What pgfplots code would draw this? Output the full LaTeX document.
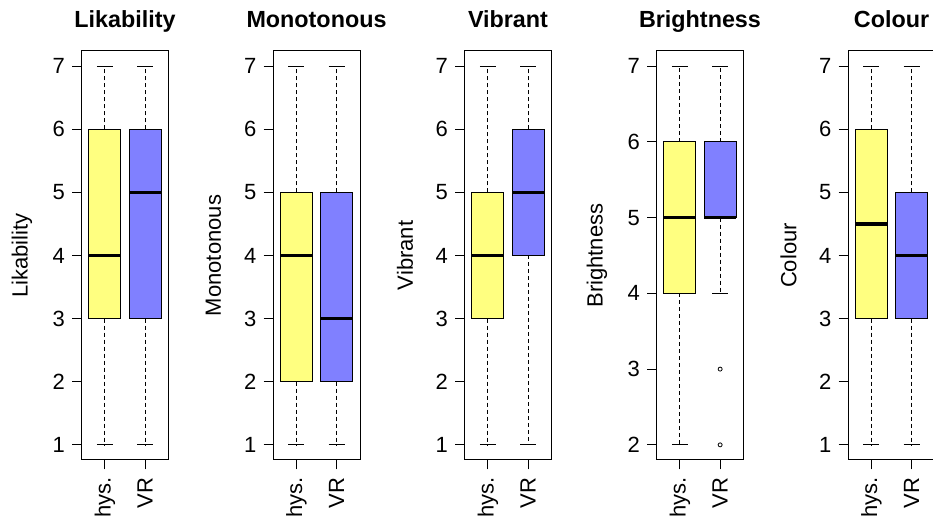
\documentclass[border=0pt]{standalone}
\usepackage{fontspec}
\setmainfont{Liberation Sans}
\usepackage{pgfplots}
\pgfplotsset{compat=1.18}
\usepgfplotslibrary{statistics}
\definecolor{physyellow}{RGB}{255,255,128}
\definecolor{vrblue}{RGB}{128,128,255}
\pgfplotsset{
  boxplot/draw direction=y,
  boxplot/box extend=0.8,
  boxplot/whisker extend=0.4,
  boxplot/every median/.style={line width=2.4pt, black},
  boxplot/draw/lower whisker/.code={%
    \draw[fill=none, black, line width=0.75pt, dash pattern=on 3pt off 2.25pt]
      (boxplot box cs:\pgfplotsboxplotvalue{lower quartile},0.5) --
      (boxplot box cs:\pgfplotsboxplotvalue{lower whisker},0.5);
    \draw[fill=none, black, line width=0.75pt, solid]
      (boxplot whisker cs:\pgfplotsboxplotvalue{lower whisker},0) --
      (boxplot whisker cs:\pgfplotsboxplotvalue{lower whisker},1);
  },
  boxplot/draw/upper whisker/.code={%
    \draw[fill=none, black, line width=0.75pt, dash pattern=on 3pt off 2.25pt]
      (boxplot box cs:\pgfplotsboxplotvalue{upper quartile},0.5) --
      (boxplot box cs:\pgfplotsboxplotvalue{upper whisker},0.5);
    \draw[fill=none, black, line width=0.75pt, solid]
      (boxplot whisker cs:\pgfplotsboxplotvalue{upper whisker},0) --
      (boxplot whisker cs:\pgfplotsboxplotvalue{upper whisker},1);
  },
  every axis title shift=0pt,
  rpanel/.style={
    scale only axis, width=65.25pt, height=306.75pt,
    anchor=south west,
    xmin=0.42, xmax=2.58,
    xtick={1,2}, xticklabels={Phys.,VR},
    tick align=outside, tick pos=left,
    major tick length=7pt,
    tick style={black, line width=0.75pt},
    axis line style={line width=0.75pt},
    /pgf/number format/assume math mode=true,
    tick label style={font=\fontsize{16.5}{19}\selectfont},
    xticklabel style={rotate=90, anchor=east, inner sep=0pt, xshift=-6pt},
    yticklabel style={anchor=east, inner sep=0pt, xshift=-5.25pt},
    title style={at={(0.5,1)}, anchor=base, yshift=17.25pt, font=\fontsize{17.5}{21}\selectfont\bfseries},
    ylabel style={at={(axis description cs:-0.685,0.5)}, anchor=center, font=\fontsize{16.5}{20}\selectfont},
  },
  physbox/.style={draw=black, line width=0.75pt, fill=physyellow, solid, mark=none},
  vrbox/.style={draw=black, line width=0.75pt, fill=vrblue, solid, mark=none},
}
\begin{document}
\begin{tikzpicture}
\useasboundingbox (0,0) rectangle (699.75pt,387.75pt);
\clip (0,0) rectangle (699.75pt,387.75pt);

% Likability
\begin{axis}[rpanel, at={(61.125pt,42.75pt)}, ymin=0.76, ymax=7.24, ytick={1,...,7},
  title={Likability}, ylabel={Likability}]
\addplot[physbox, boxplot prepared={draw position=1, lower whisker=1, lower quartile=3, median=4, upper quartile=6, upper whisker=7}] coordinates {};
\addplot[vrbox, boxplot prepared={draw position=2, lower whisker=1, lower quartile=3, median=5, upper quartile=6, upper whisker=7}] coordinates {};
\end{axis}

% Monotonous
\begin{axis}[rpanel, at={(204.75pt,42.75pt)}, ymin=0.76, ymax=7.24, ytick={1,...,7},
  title={Monotonous}, ylabel={Monotonous}]
\addplot[physbox, boxplot prepared={draw position=1, lower whisker=1, lower quartile=2, median=4, upper quartile=5, upper whisker=7}] coordinates {};
\addplot[vrbox, boxplot prepared={draw position=2, lower whisker=1, lower quartile=2, median=3, upper quartile=5, upper whisker=7}] coordinates {};
\end{axis}

% Vibrant
\begin{axis}[rpanel, at={(348.375pt,42.75pt)}, ymin=0.76, ymax=7.24, ytick={1,...,7},
  title={Vibrant}, ylabel={Vibrant}]
\addplot[physbox, boxplot prepared={draw position=1, lower whisker=1, lower quartile=3, median=4, upper quartile=5, upper whisker=7}] coordinates {};
\addplot[vrbox, boxplot prepared={draw position=2, lower whisker=1, lower quartile=4, median=5, upper quartile=6, upper whisker=7}] coordinates {};
\end{axis}

% Brightness
\begin{axis}[rpanel, at={(492.375pt,42.75pt)}, ymin=1.8, ymax=7.2, ytick={2,...,7},
  title={Brightness}, ylabel={Brightness}]
\addplot[physbox, boxplot prepared={draw position=1, lower whisker=2, lower quartile=4, median=5, upper quartile=6, upper whisker=7}] coordinates {};
\addplot[vrbox, mark=o, mark size=1.5pt, mark options={solid, black, line width=0.6pt, fill=none},
  boxplot prepared={draw position=2, lower whisker=4, lower quartile=5, median=5, upper quartile=6, upper whisker=7}]
  table[row sep=\\, y index=0] {data\\ 3\\ 2\\};
\end{axis}

% Colour
\begin{axis}[rpanel, at={(636pt,42.75pt)}, ymin=0.76, ymax=7.24, ytick={1,...,7},
  title={Colour}, ylabel={Colour}]
\addplot[physbox, boxplot prepared={draw position=1, lower whisker=1, lower quartile=3, median=4.5, upper quartile=6, upper whisker=7}] coordinates {};
\addplot[vrbox, boxplot prepared={draw position=2, lower whisker=1, lower quartile=3, median=4, upper quartile=5, upper whisker=7}] coordinates {};
\end{axis}
\end{tikzpicture}
\end{document}
